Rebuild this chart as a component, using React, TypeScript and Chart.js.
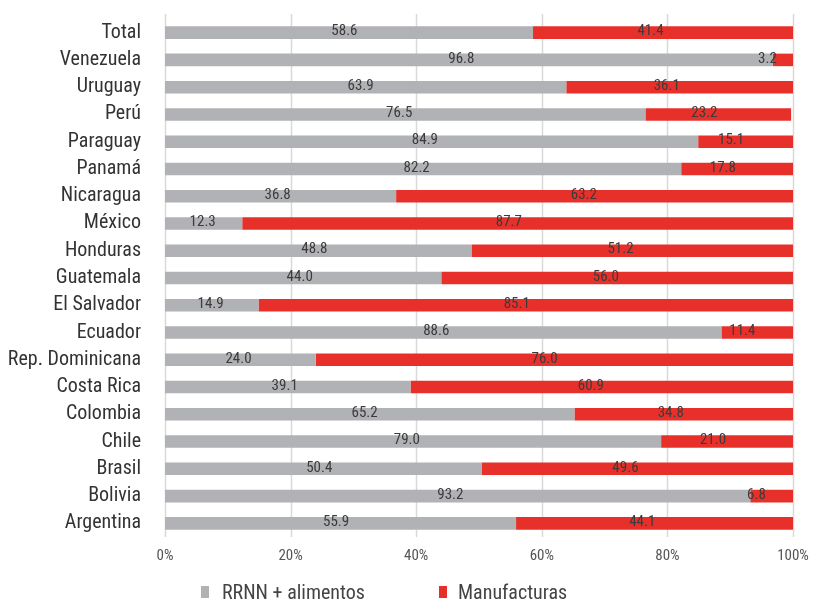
import React, { useEffect, useRef } from "react";
import { Chart, registerables } from "chart.js";

Chart.register(...registerables);

const categories = [
  "Total", "Venezuela", "Uruguay", "Perú", "Paraguay", "Panamá", "Nicaragua", "México",
  "Honduras", "Guatemala", "El Salvador", "Ecuador", "Rep. Dominicana", "Costa Rica",
  "Colombia", "Chile", "Brasil", "Bolivia", "Argentina",
];
const rrnnValues = [58.6, 96.8, 63.9, 76.5, 84.9, 82.2, 36.8, 12.3, 48.8, 44.0, 14.9, 88.6, 24.0, 39.1, 65.2, 79.0, 50.4, 93.2, 55.9];
const manufValues = [41.4, 3.2, 36.1, 23.2, 15.1, 17.8, 63.2, 87.7, 51.2, 56.0, 85.1, 11.4, 76.0, 60.9, 34.8, 21.0, 49.6, 6.8, 44.1];
const seriesNames = ["RRNN + alimentos", "Manufacturas"];
const seriesColors = ["#b1b2b5", "#e8302b"];

const FONT = "'Roboto Condensed', 'Liberation Sans Narrow', 'DejaVu Sans Condensed', Roboto, sans-serif";

const gridPlugin = {
  id: "extGrid",
  beforeDatasetsDraw(chart: any) {
    const { ctx, chartArea } = chart;
    const xs = chart.scales.x;
    ctx.save();
    ctx.strokeStyle = "#d9d9d9";
    ctx.lineWidth = 1.5;
    xs.ticks.forEach((t: any) => {
      const x = Math.round(xs.getPixelForValue(t.value)) + 0.5;
      ctx.beginPath();
      ctx.moveTo(x, chartArea.top - 5);
      ctx.lineTo(x, chartArea.bottom);
      ctx.stroke();
    });
    ctx.restore();
  },
};

const labelPlugin = {
  id: "segLabels",
  afterDatasetsDraw(chart: any) {
    const { ctx } = chart;
    const xs = chart.scales.x;
    ctx.save();
    ctx.font = `15px ${FONT}`;
    ctx.fillStyle = "#3b3b3b";
    ctx.textAlign = "center";
    ctx.textBaseline = "middle";
    chart.data.datasets.forEach((ds: any, di: number) => {
      const meta = chart.getDatasetMeta(di);
      meta.data.forEach((bar: any, i: number) => {
        let start = 0;
        for (let k = 0; k < di; k++) start += chart.data.datasets[k].data[i];
        const v = ds.data[i];
        const mid = start + v / 2;
        const px = xs.left + (xs.getPixelForValue(mid) - xs.left) * 0.975;
        ctx.fillText(v.toFixed(1), px, bar.y - 1);
      });
    });
    ctx.restore();
  },
};

export default function App() {
  const ref = useRef<HTMLCanvasElement>(null);
  useEffect(() => {
    const chart = new Chart(ref.current!, {
      type: "bar",
      data: {
        labels: categories,
        datasets: [
          { label: seriesNames[0], data: rrnnValues, backgroundColor: seriesColors[0], barPercentage: 0.46, categoryPercentage: 1 },
          { label: seriesNames[1], data: manufValues, backgroundColor: seriesColors[1], barPercentage: 0.46, categoryPercentage: 1 },
        ],
      },
      options: {
        indexAxis: "y",
        animation: false,
        responsive: false,
        maintainAspectRatio: false,
        layout: { padding: { top: 19, right: 23, left: 0, bottom: 25 } },
        scales: {
          x: {
            stacked: true,
            min: 0,
            max: 100,
            ticks: { stepSize: 20, callback: (v: any) => v + "%", color: "#555", font: { family: FONT, size: 15 }, padding: 10 },
            grid: { display: false, drawTicks: false },
            border: { display: false },
            afterFit: (s: any) => { s.paddingLeft = 0; s.paddingRight = 0; },
          },
          y: {
            stacked: true,
            ticks: { color: "#333", font: { family: FONT, size: 20 }, padding: 24, autoSkip: false },
            grid: { display: false, drawTicks: false },
            border: { display: false },
            afterFit: (s: any) => { s.width = 165; s.paddingTop = 0; s.paddingBottom = 0; },
          },
        },
        plugins: {
          legend: { display: false },
          tooltip: { enabled: false },
        },
      },
      plugins: [gridPlugin, labelPlugin],
    });
    return () => chart.destroy();
  }, []);
  const legendItem = (i: number, left: number, textLeft: number) => (
    <div key={i}>
      <div style={{ position: "absolute", left, top: 586, width: 8, height: 12, background: seriesColors[i] }} />
      <span style={{ position: "absolute", left: textLeft, top: 579, fontFamily: FONT, fontSize: 20, lineHeight: "26px", color: "#444", whiteSpace: "nowrap" }}>
        {seriesNames[i]}
      </span>
    </div>
  );
  return (
    <div style={{ position: "fixed", left: 0, top: 0, width: 816, height: 600, background: "#fff", overflow: "hidden" }}>
      <canvas ref={ref} width={816} height={600} style={{ width: 816, height: 600, display: "block" }} />
      {legendItem(0, 201, 222)}
      {legendItem(1, 439, 458)}
    </div>
  );
}
